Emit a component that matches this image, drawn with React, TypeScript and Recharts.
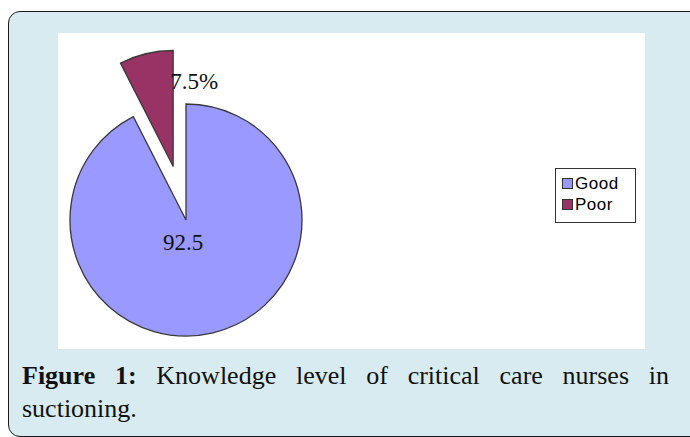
import { PieChart, Pie, Cell, Legend } from "recharts";

const categories = ["Good", "Poor"];
const values = [92.5, 7.5];
const sliceLabels = ["92.5", "7.5%"];
const colors = ["#9999ff", "#993366"];

const CX = 123;
const CY = 182;
const RADIUS = 116;
const EXPLODE = 55;
const RADIAN = Math.PI / 180;

const pieData = categories.map((name, i) => ({ name, value: values[i] }));

// mid angle of the exploded (second) slice, pie drawn clockwise from 12 o'clock
const total = values.reduce((a, b) => a + b, 0);
const midFrac = (values[0] + values[1] / 2) / total;
const midAngle = 90 - midFrac * 360;
const offX = EXPLODE * Math.cos(midAngle * RADIAN);
const offY = -EXPLODE * Math.sin(midAngle * RADIAN);

const labelFont = { fontFamily: "'Liberation Serif', 'Times New Roman', serif", fontSize: 23 };

function renderLabel(only: number) {
  return (props: any) => {
    if (props.index !== only) return null;
    const cx = props.cx;
    const cy = props.cy;
    const r = props.outerRadius;
    if (only === 0) {
      return (
        <text x={cx - 3} y={cy + r * 0.19} textAnchor="middle" dominantBaseline="central" fill="#111" style={labelFont}>
          {sliceLabels[0]}
        </text>
      );
    }
    return (
      <text x={cx - 3} y={cy - r * 0.73} textAnchor="start" dominantBaseline="central" fill="#111" style={labelFont}>
        {sliceLabels[1]}
      </text>
    );
  };
}

function LegendBox() {
  return (
    <div
      style={{
        border: "1px solid #333",
        background: "#fff",
        width: 79,
        height: 49,
        boxSizing: "content-box",
        fontFamily: "'Liberation Sans', Arial, sans-serif",
        fontSize: 17,
        paddingTop: 4,
      }}
    >
      {categories.map((c, i) => (
        <div key={c} style={{ display: "flex", alignItems: "center", height: 21, paddingLeft: 6 }}>
          <span
            style={{
              display: "inline-block",
              width: 9,
              height: 9,
              border: "1px solid #333",
              background: colors[i],
              marginRight: 2,
            }}
          />
          <span style={{ color: "#000", letterSpacing: 0.5 }}>{c}</span>
        </div>
      ))}
    </div>
  );
}

export default function App() {
  return (
    <div style={{ position: "absolute", left: 0, top: 0, width: 690, height: 437, overflow: "hidden" }}>
      <div
        style={{
          position: "absolute",
          left: 8,
          top: 11,
          width: 700,
          height: 424,
          border: "1.5px solid #1a1a1a",
          borderRadius: 12,
          background: "#d7ebf0",
        }}
      />
      <div style={{ position: "absolute", left: 58, top: 33, width: 587, height: 316, background: "#fff" }}>
        <PieChart width={587} height={316}>
          <Pie
            data={pieData}
            dataKey="value"
            nameKey="name"
            cx={CX}
            cy={CY}
            outerRadius={RADIUS}
            startAngle={90}
            endAngle={-270}
            isAnimationActive={false}
            labelLine={false}
            label={renderLabel(0)}
            legendType="none"
          >
            {pieData.map((d, i) => (
              <Cell
                key={d.name}
                fill={i === 0 ? colors[0] : "transparent"}
                stroke={i === 0 ? "#3a3a3a" : "none"}
                strokeWidth={1.3}
              />
            ))}
          </Pie>
          <Pie
            data={pieData}
            dataKey="value"
            nameKey="name"
            cx={CX + offX}
            cy={CY + offY}
            outerRadius={RADIUS}
            startAngle={90}
            endAngle={-270}
            isAnimationActive={false}
            labelLine={false}
            label={renderLabel(1)}
            legendType="none"
          >
            {pieData.map((d, i) => (
              <Cell
                key={d.name}
                fill={i === 1 ? colors[1] : "transparent"}
                stroke={i === 1 ? "#3a3a3a" : "none"}
                strokeWidth={1.3}
              />
            ))}
          </Pie>
          <Legend
            content={() => <LegendBox />}
            wrapperStyle={{ left: 497, top: 135, width: 81, bottom: "auto", right: "auto" }}
          />
        </PieChart>
      </div>
      <div
        style={{
          position: "absolute",
          left: 22,
          top: 359,
          width: 647,
          fontFamily: "'Liberation Serif', 'Times New Roman', serif",
          fontSize: 26,
          lineHeight: "33px",
          color: "#111",
        }}
      >
        <div style={{ textAlign: "justify", textAlignLast: "justify" }}>
          <b>Figure 1:</b> Knowledge level of critical care nurses in
        </div>
        <div>suctioning.</div>
      </div>
    </div>
  );
}
